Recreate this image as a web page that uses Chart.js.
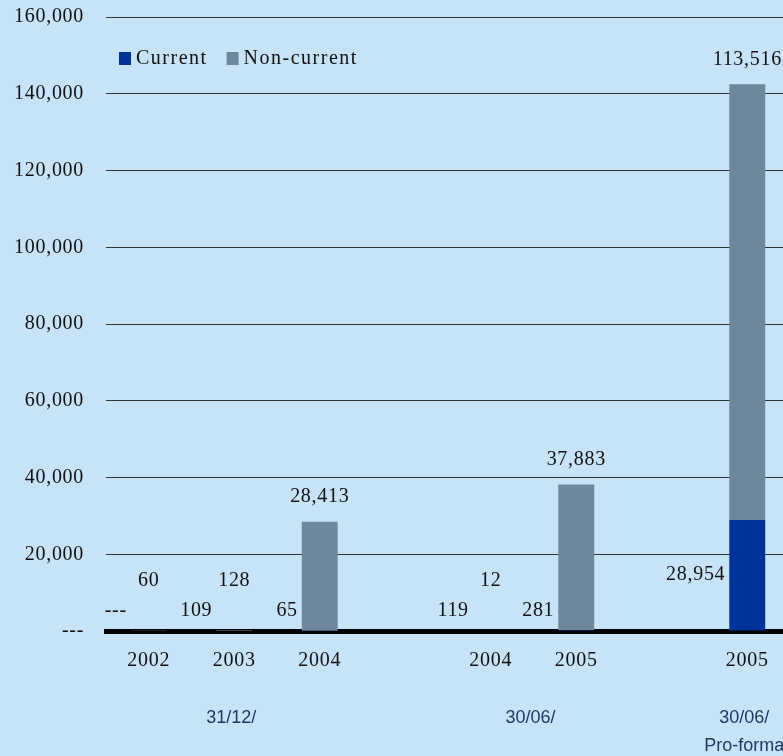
<!DOCTYPE html>
<html><head><meta charset="utf-8">
<script src="https://cdn.jsdelivr.net/npm/chart.js@4"></script>
<style>
html,body{margin:0;padding:0;overflow:hidden;background:#C7E3F7;}
canvas{display:block;}
</style></head><body>
<canvas id="c" width="800" height="756"></canvas>
<script>
const categories = ['2002', '2003', '2004', '', '2004', '2005', '', '2005'];
const currentValues = [0, 109, 65, null, 119, 281, null, 28954];
const nonCurrentValues = [60, 128, 28413, null, 12, 37883, null, 113516];
const seriesNames = ['Current', 'Non-current'];
const yTickValues = [0, 20000, 40000, 60000, 80000, 100000, 120000, 140000, 160000];
const groupLabels = [['31/12/'], ['30/06/'], ['30/06/', 'Pro-forma']];
const groupMembers = [[0, 1, 2], [4, 5], [7]];

const COLORS = ['#003399', '#6F879D'];
const SERIF = "'Liberation Serif', 'Times New Roman', serif";
const SANS = "'Liberation Sans', Arial, sans-serif";
const FS = 20;
const fmt = v => v === 0 ? '---' : v.toLocaleString('en-US');

const spacingPlugin = {
  id: 'spacing',
  beforeDraw(chart) { chart.ctx.letterSpacing = '0.7px'; }
};

const labelPlugin = {
  id: 'valueLabels',
  afterDatasetsDraw(chart) {
    const ctx = chart.ctx;
    const base = chart.scales.y.getPixelForValue(0);
    const mC = chart.getDatasetMeta(0), mN = chart.getDatasetMeta(1);
    ctx.save();
    ctx.font = FS + 'px ' + SERIF;
    ctx.fillStyle = '#111';
    ctx.textBaseline = 'middle';
    categories.forEach((c, i) => {
      if (currentValues[i] == null) return;
      const bc = mC.data[i], bn = mN.data[i];
      const left = bc.x - bc.width / 2;
      const cy = Math.min((bc.y + bc.base) / 2, base - 20);
      ctx.textAlign = 'right';
      ctx.fillText(fmt(currentValues[i]), left - 4, cy);
      const ny = Math.min(bn.y - 25, base - 50);
      ctx.textAlign = 'center';
      ctx.fillText(fmt(nonCurrentValues[i]), bn.x, ny);
    });
    ctx.restore();
  }
};

const legendPlugin = {
  id: 'customLegend',
  afterDraw(chart) {
    const ctx = chart.ctx;
    ctx.save();
    ctx.font = FS + 'px ' + SERIF;
    ctx.letterSpacing = '1.5px';
    ctx.textBaseline = 'middle';
    ctx.textAlign = 'left';
    let x = chart.chartArea.left + 13;
    const y = 52;
    chart.data.datasets.forEach(ds => {
      ctx.fillStyle = ds.backgroundColor;
      ctx.fillRect(x, y, 12, 13);
      ctx.fillStyle = '#111';
      ctx.fillText(ds.label, x + 17, y + 6.5);
      x += 17 + ctx.measureText(ds.label).width + 19;
    });
    ctx.restore();
  }
};

const groupPlugin = {
  id: 'groupLabels',
  afterDraw(chart) {
    const ctx = chart.ctx;
    const xs = chart.scales.x;
    ctx.save();
    ctx.letterSpacing = '0px';
    ctx.font = '18px ' + SANS;
    ctx.fillStyle = '#1F3864';
    ctx.textAlign = 'center';
    ctx.textBaseline = 'middle';
    groupLabels.forEach((lines, g) => {
      const idx = groupMembers[g];
      const cx = idx.reduce((s, i) => s + xs.getPixelForValue(i), 0) / idx.length - 3;
      lines.forEach((t, k) => ctx.fillText(t, cx, 718 + k * 28));
    });
    ctx.restore();
  }
};

new Chart(document.getElementById('c'), {
  type: 'bar',
  data: {
    labels: categories,
    datasets: [
      { label: seriesNames[0], data: currentValues, backgroundColor: COLORS[0] },
      { label: seriesNames[1], data: nonCurrentValues, backgroundColor: COLORS[1] }
    ]
  },
  options: {
    responsive: false,
    animation: false,
    devicePixelRatio: 1,
    layout: { padding: { left: 0, right: 10, top: 17, bottom: 0 } },
    datasets: { bar: { categoryPercentage: 1, barPercentage: 0.42 } },
    plugins: { legend: { display: false }, tooltip: { enabled: false } },
    scales: {
      x: {
        stacked: true,
        grid: { display: false, drawTicks: false },
        border: { display: true, color: '#000', width: 5 },
        ticks: { color: '#111', font: { family: SERIF, size: FS }, padding: 18, maxRotation: 0, autoSkip: false },
        afterFit: s => { s.height = 125; s.paddingLeft = 0; s.paddingRight = 0; }
      },
      y: {
        stacked: true,
        min: 0, max: 160000,
        afterBuildTicks: s => { s.ticks = yTickValues.map(v => ({ value: v })); },
        grid: { color: '#333', lineWidth: 1, drawTicks: false },
        border: { display: false },
        ticks: { color: '#111', font: { family: SERIF, size: FS }, padding: 22, callback: v => fmt(v) },
        afterFit: s => { s.width = 106; s.paddingTop = 0; s.paddingBottom = 0; }
      }
    }
  },
  plugins: [spacingPlugin, labelPlugin, legendPlugin, groupPlugin]
});
</script>
</body></html>
